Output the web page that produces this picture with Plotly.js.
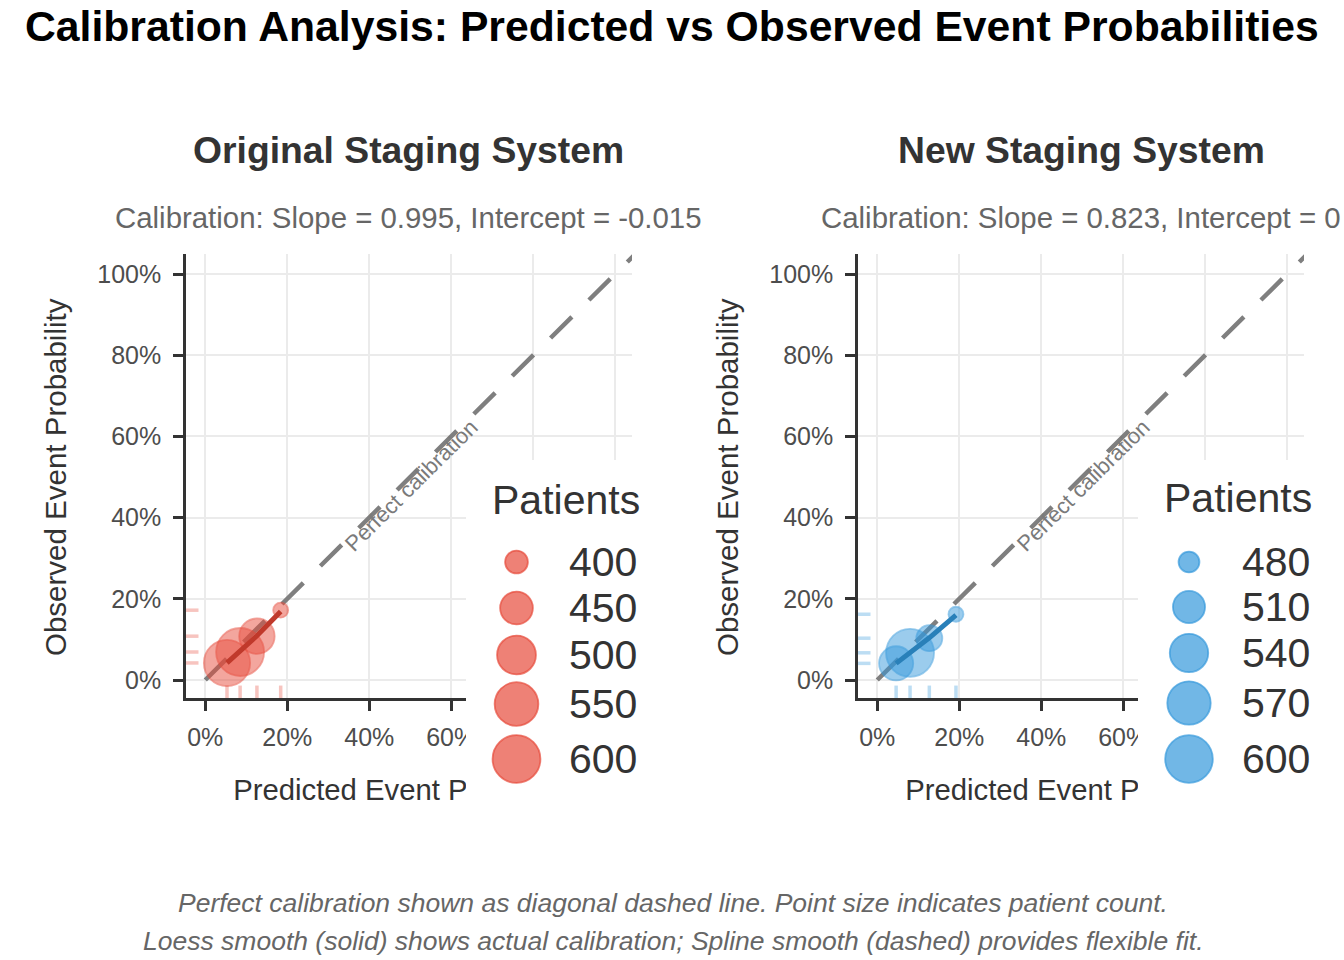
<!DOCTYPE html>
<html>
<head>
<meta charset="utf-8">
<script src="https://cdn.plot.ly/plotly-3.0.1.min.js"></script>
<style>html,body{margin:0;padding:0;background:#fff;}#chart{width:1344px;height:960px;}</style>
</head>
<body>
<div id="chart"></div>
<script>
// ---------- data ----------
const origPredicted = [0.053, 0.085, 0.126, 0.184];
const origObserved  = [0.042, 0.069, 0.108, 0.172];
const origPatients  = [580, 602, 470, 388];
const origLoess     = [0.042, 0.071, 0.109, 0.169];

const newPredicted = [0.046, 0.080, 0.127, 0.192];
const newObserved  = [0.041, 0.067, 0.103, 0.162];
const newPatients  = [519, 603, 490, 476];
const newLoess     = [0.041, 0.068, 0.104, 0.160];

const origBreaks = [400, 450, 500, 550, 600];
const newBreaks  = [480, 510, 540, 570, 600];

const tickValues = [0, 0.2, 0.4, 0.6, 0.8, 1.0];
const tickLabels = ['0%', '20%', '40%', '60%', '80%', '100%'];
const perfectLine = [0, 1.1];

const mainTitle = "Calibration Analysis: Predicted vs Observed Event Probabilities";
const panelTitles = ["Original Staging System", "New Staging System"];
const panelSubtitles = ["Calibration: Slope = 0.995, Intercept = -0.015",
                        "Calibration: Slope = 0.823, Intercept = 0"];
const xTitle = "Predicted Event Probability";
const yTitle = "Observed Event Probability";
const legendTitle = "Patients";
const diagLabel = "Perfect calibration";
const captionLines = [
  "Perfect calibration shown as diagonal dashed line. Point size indicates patient count.",
  "Loess smooth (solid) shows actual calibration; Spline smooth (dashed) provides flexible fit."
];

// ---------- styling / layout helpers ----------
const W = 1344, H = 960;
const FONT = '"Liberation Sans", Arial, Helvetica, sans-serif';
const px = v => v / W;
const py = v => 1 - v / H;

const sizeRange = [15, 48];
function sizeScale(vals) {
  const lo = Math.min(...vals), hi = Math.max(...vals);
  return v => sizeRange[0] + (sizeRange[1] - sizeRange[0]) * Math.sqrt(Math.max(0, (v - lo) / (hi - lo)));
}

const panels = [
  { pred: origPredicted, obs: origObserved, n: origPatients, loess: origLoess, breaks: origBreaks,
    fill: 'rgba(231,76,60,0.7)', lineCol: '#C0392B', rug: 'rgba(231,76,60,0.33)',
    xa: 'x', ya: 'y', ta: ['x3', 'y3'], dom: [186, 632],
    leg: { box: [466, 460, 668, 818], titleX: 490, circX: 516.5, labX: 567, titleY: 500, rowsY: [562, 608, 655, 704, 759] } },
  { pred: newPredicted, obs: newObserved, n: newPatients, loess: newLoess, breaks: newBreaks,
    fill: 'rgba(52,152,219,0.7)', lineCol: '#2980B9', rug: 'rgba(52,152,219,0.33)',
    xa: 'x2', ya: 'y2', ta: ['x4', 'y4'], dom: [858, 1304],
    leg: { box: [1138, 460, 1344, 818], titleX: 1162, circX: 1189, labX: 1240, titleY: 498, rowsY: [562, 607, 653, 703, 759] } }
];

const xRange = [-0.047, 1.041];
const yRange = [-0.0443, 1.0493];
const yDom = [py(698), py(254)];
const xTitleDom = [py(815), py(771)];

const traces = [];
const shapes = [];
const annotations = [];

function axisStyle(extra) {
  return Object.assign({
    tickmode: 'array', tickvals: tickValues, ticktext: tickLabels,
    showgrid: true, gridcolor: '#ebebeb', gridwidth: 2,
    zeroline: false, showline: true, linecolor: '#333333', linewidth: 2.5,
    ticks: 'outside', ticklen: 10, tickwidth: 3, tickcolor: '#333333',
    tickfont: { family: FONT, size: 25, color: '#4d4d4d' },
    fixedrange: true
  }, extra);
}

const layout = {
  width: W, height: H,
  margin: { l: 0, r: 0, t: 0, b: 0 },
  paper_bgcolor: '#ffffff', plot_bgcolor: 'rgba(0,0,0,0)',
  showlegend: false,
  font: { family: FONT },
  shapes: shapes, annotations: annotations
};

panels.forEach((p, i) => {
  const sfn = sizeScale(p.n);
  const n1 = i === 0 ? '' : '2';
  const n2 = i === 0 ? '3' : '4';
  const L = p.leg;
  // x tick labels that fall entirely under the legend box are not shown (as in the original)
  const toPx = v => p.dom[0] + (v - xRange[0]) / (xRange[1] - xRange[0]) * (p.dom[1] - p.dom[0]);
  const xText = tickValues.map((v, k) => (toPx(v) - 22 > L.box[0] ? '' : tickLabels[k]));
  layout['xaxis' + n1] = axisStyle({ domain: [px(p.dom[0]), px(p.dom[1])], range: xRange, anchor: p.ya,
    ticktext: xText, ticklabelstandoff: 5 });
  layout['yaxis' + n1] = axisStyle({ domain: yDom, range: yRange, anchor: p.xa, ticklabelstandoff: 7 });
  // helper axes holding the x-axis title below the panel
  layout['xaxis' + n2] = { domain: [px(p.dom[0]), px(p.dom[1])], range: [0, 1], visible: false, anchor: p.ta[1], fixedrange: true };
  layout['yaxis' + n2] = { domain: xTitleDom, range: [0, 1], visible: false, anchor: p.ta[0], fixedrange: true };

  // perfect calibration diagonal
  traces.push({ x: perfectLine, y: perfectLine, xaxis: p.xa, yaxis: p.ya, mode: 'lines',
    line: { color: '#7f7f7f', width: 4.5, dash: '30px,24px' }, hoverinfo: 'skip' });
  // points
  traces.push({ x: p.pred, y: p.obs, xaxis: p.xa, yaxis: p.ya, mode: 'markers',
    marker: { size: p.n.map(sfn), color: p.fill, line: { color: p.fill, width: 1.8 } },
    text: p.n.map(v => 'Patients: ' + v), hoverinfo: 'x+y+text' });
  // loess smooth
  traces.push({ x: p.pred, y: p.loess, xaxis: p.xa, yaxis: p.ya, mode: 'lines',
    line: { color: p.lineCol, width: 5 }, hoverinfo: 'skip' });
  // x-axis title (drawn in plot layer so the legend box overlaps it)
  traces.push({ x: [0.5], y: [0.5], xaxis: p.ta[0], yaxis: p.ta[1], mode: 'text', text: [xTitle],
    textposition: 'middle center', textfont: { family: FONT, size: 29.3, color: '#333333' },
    cliponaxis: false, hoverinfo: 'skip' });

  // rugs
  p.pred.forEach(v => shapes.push({ type: 'line', layer: 'below', xref: p.xa, yref: p.ya + ' domain',
    x0: v, x1: v, y0: 0, y1: 0.028, line: { color: p.rug, width: 3.5 } }));
  p.obs.forEach(v => shapes.push({ type: 'line', layer: 'below', xref: p.xa + ' domain', yref: p.ya,
    x0: 0, x1: 0.028, y0: v, y1: v, line: { color: p.rug, width: 3.5 } }));

  // diagonal label
  annotations.push({ xref: p.xa, yref: p.ya, x: 0.502, y: 0.48, text: diagLabel, showarrow: false,
    textangle: -44.7, font: { family: FONT, size: 22, color: '#7a7a7a' }, xanchor: 'center', yanchor: 'middle' });

  // panel titles
  const cx = px((p.dom[0] + p.dom[1]) / 2);
  annotations.push({ xref: 'paper', yref: 'paper', x: cx, y: py(150), text: '<b>' + panelTitles[i] + '</b>',
    showarrow: false, font: { family: FONT, size: 37.3, color: '#333333' }, xanchor: 'center', yanchor: 'middle' });
  annotations.push({ xref: 'paper', yref: 'paper', x: cx, y: py(218), text: panelSubtitles[i],
    showarrow: false, font: { family: FONT, size: 29.4, color: '#666666' }, xanchor: 'center', yanchor: 'middle' });
  // y title
  annotations.push({ xref: 'paper', yref: 'paper', x: px(i === 0 ? 56 : 728), y: py(477), text: yTitle,
    textangle: -90, showarrow: false, font: { family: FONT, size: 29.5, color: '#333333' },
    xanchor: 'center', yanchor: 'middle' });

  // legend box (covers panel edge like the original)
  shapes.push({ type: 'rect', layer: 'above', xref: 'paper', yref: 'paper',
    x0: px(L.box[0]), x1: px(L.box[2]), y0: py(L.box[3]), y1: py(L.box[1]),
    fillcolor: '#ffffff', line: { width: 0 } });
  annotations.push({ xref: 'paper', yref: 'paper', x: px(L.titleX), y: py(L.titleY), text: legendTitle,
    showarrow: false, font: { family: FONT, size: 41, color: '#333333' }, xanchor: 'left', yanchor: 'middle' });
  p.breaks.forEach((b, k) => {
    const d = sfn(b);
    shapes.push({ type: 'circle', layer: 'above', xref: 'paper', yref: 'paper',
      xsizemode: 'pixel', ysizemode: 'pixel', xanchor: px(L.circX), yanchor: py(L.rowsY[k]),
      x0: -d / 2, x1: d / 2, y0: -d / 2, y1: d / 2,
      fillcolor: p.fill, line: { color: p.fill, width: 1.8 } });
    annotations.push({ xref: 'paper', yref: 'paper', x: px(L.labX), y: py(L.rowsY[k]), text: String(b),
      showarrow: false, font: { family: FONT, size: 41, color: '#333333' }, xanchor: 'left', yanchor: 'middle' });
  });
});

// main title and caption
annotations.push({ xref: 'paper', yref: 'paper', x: px(672), y: py(26), text: '<b>' + mainTitle + '</b>',
  showarrow: false, font: { family: FONT, size: 42.7, color: '#000000' }, xanchor: 'center', yanchor: 'middle' });
captionLines.forEach((t, k) => annotations.push({ xref: 'paper', yref: 'paper', x: px(673), y: py(k === 0 ? 903 : 941),
  text: '<i>' + t + '</i>', showarrow: false, font: { family: FONT, size: 26.5, color: '#666666' },
  xanchor: 'center', yanchor: 'middle' }));

Plotly.newPlot('chart', traces, layout, { displayModeBar: false });
</script>
</body>
</html>
